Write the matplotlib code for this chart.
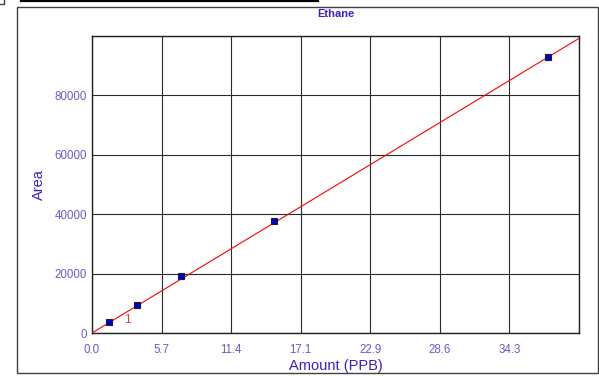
import matplotlib.pyplot as plt
import numpy as np
from matplotlib.patches import Rectangle
from matplotlib.lines import Line2D

plt.rcParams['font.family'] = ['Liberation Sans', 'DejaVu Sans']

# calibration points for ethane
amount = [1.40, 3.67, 7.31, 14.92, 37.45]
area = [3600, 9330, 19190, 37810, 92930]

# calibration curve (area = slope * amount + intercept)
slope = 2480.0
intercept = 0.0

x_ticks = [0.0, 5.7, 11.4, 17.1, 22.9, 28.6, 34.3]
y_ticks = [0, 20000, 40000, 60000, 80000]

tick_col = '#6a5acd'
label_col = '#3a20c8'

fig = plt.figure(figsize=(5.99, 3.76), dpi=100)
ax1 = fig.add_axes([92 / 599, 1 - 333 / 376, 487 / 599, 297 / 376])

# outer frame
fig.patches.append(Rectangle((17 / 599, 1 - 373 / 376), 581 / 599, 366 / 376,
                             transform=fig.transFigure, fill=False,
                             edgecolor='#404040', lw=1.0))
fig.lines.append(Line2D([21 / 599, 318 / 599], [1 - 0.8 / 376, 1 - 0.8 / 376],
                        transform=fig.transFigure, color='black', lw=1.6))
fig.lines.append(Line2D([0, 4 / 599, 4 / 599], [1 - 3.5 / 376, 1 - 3.5 / 376, 1],
                        transform=fig.transFigure, color='#404040', lw=1.0))

ax1.set_xlim(0, 40)
ax1.set_ylim(0, 100000)
ax1.set_xticks(np.arange(8) * 40 / 7)
ax1.set_xticklabels(x_ticks + [''])
ax1.set_yticks(y_ticks + [100000])
ax1.set_yticklabels([str(v) for v in y_ticks] + [''])
ax1.tick_params(length=0, labelsize=8.3, labelcolor=tick_col)
ax1.tick_params(axis='x', pad=8)
ax1.tick_params(axis='y', pad=3.5)
ax1.grid(True, color='#2a2a2a', lw=0.8)
ax1.set_axisbelow(True)
for s in ax1.spines.values():
    s.set_color('#202020')
    s.set_linewidth(1.0)

xs = np.array([0, 40])
ax1.plot(xs, slope * xs + intercept, color='red', lw=0.8, zorder=3)
ax1.plot(amount, area, 's', ms=4.5, mfc='#0000cc', mec='#1a1a40', mew=0.8, zorder=4)
ax1.text(2.6, 4400, '1', color='#ff3030', fontsize=8.5, ha='left', va='center')

ax1.set_title('Ethane', fontsize=8, fontweight='bold', color=label_col, y=1, pad=0)
ax1.title.set_position((0.5, (376 - 14 - 43) / 297))
ax1.title.set_verticalalignment('center')
ax1.set_ylabel('Area', fontsize=10.5, color=label_col)
ax1.yaxis.set_label_coords(-0.095, 0.5)
ax1.set_xlabel('Amount (PPB)', fontsize=10.5, color=label_col)
ax1.xaxis.set_label_coords(0.5, -0.111)
ax1.xaxis.label.set_verticalalignment('center')

plt.savefig('out.png', dpi=100)
